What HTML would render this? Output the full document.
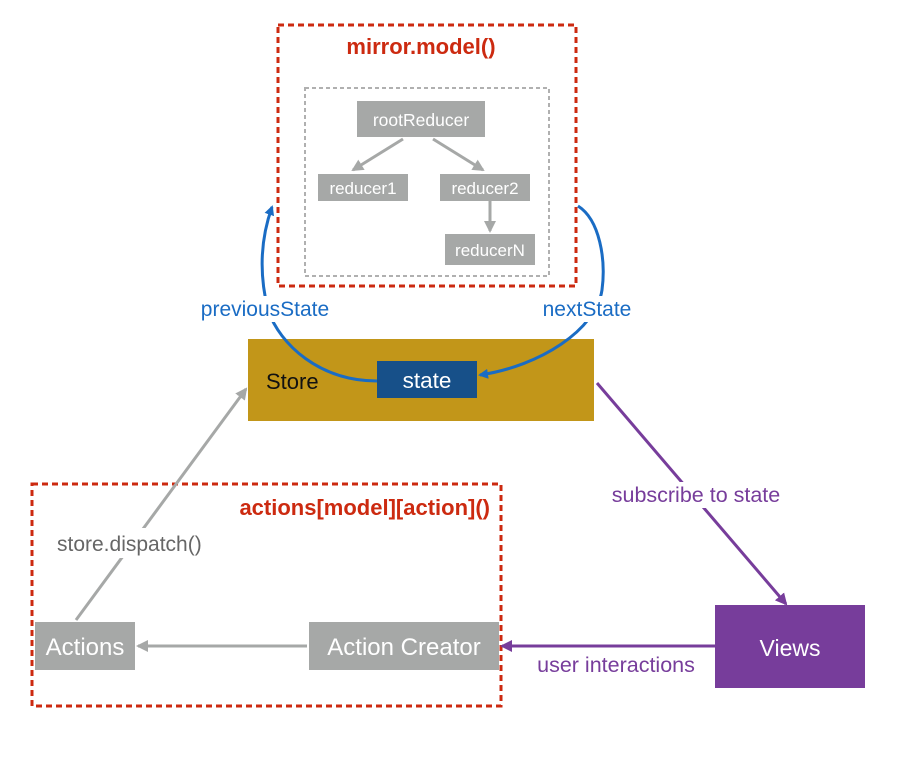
<!DOCTYPE html>
<html><head><style>body{margin:0;background:#fff}svg{display:block}text{font-family:"Liberation Sans",sans-serif}</style></head><body>
<svg width="898" height="763" viewBox="0 0 898 763" xmlns="http://www.w3.org/2000/svg">
<defs>
<marker id="ab" markerWidth="10" markerHeight="10" refX="8" refY="5" orient="auto" markerUnits="userSpaceOnUse"><path d="M0,0 L10,5 L0,10 z" fill="#1a6cc4"/></marker>
<marker id="ag" markerWidth="12" markerHeight="12" refX="10" refY="6" orient="auto" markerUnits="userSpaceOnUse"><path d="M0,0 L12,6 L0,12 z" fill="#a6a8a7"/></marker>
<marker id="ap" markerWidth="12" markerHeight="12" refX="10" refY="6" orient="auto" markerUnits="userSpaceOnUse"><path d="M0,0 L12,6 L0,12 z" fill="#773d9b"/></marker>
</defs>
<rect x="278" y="25" width="298" height="261" fill="none" stroke="#cc2a10" stroke-width="3" stroke-dasharray="6,4"/>
<text x="421" y="54" font-size="22" font-weight="bold" fill="#cc2a10" text-anchor="middle">mirror.model()</text>
<rect x="305" y="88" width="244" height="188" fill="none" stroke="#b0b0b0" stroke-width="2" stroke-dasharray="4,3"/>
<rect x="357" y="101" width="128" height="36" fill="#a6a8a7"/>
<text x="421" y="126" font-size="17.5" fill="#fff" text-anchor="middle">rootReducer</text>
<rect x="318" y="174" width="90" height="27" fill="#a6a8a7"/>
<text x="363" y="194" font-size="17" fill="#fff" text-anchor="middle">reducer1</text>
<rect x="440" y="174" width="90" height="27" fill="#a6a8a7"/>
<text x="485" y="194" font-size="17" fill="#fff" text-anchor="middle">reducer2</text>
<rect x="445" y="234" width="90" height="31" fill="#a6a8a7"/>
<text x="490" y="256" font-size="17" fill="#fff" text-anchor="middle">reducerN</text>
<line x1="403" y1="139" x2="353" y2="170" stroke="#a6a8a7" stroke-width="3" marker-end="url(#ag)"/>
<line x1="433" y1="139" x2="483" y2="170" stroke="#a6a8a7" stroke-width="3" marker-end="url(#ag)"/>
<line x1="490" y1="201" x2="490" y2="231" stroke="#a6a8a7" stroke-width="3" marker-end="url(#ag)"/>

<rect x="248" y="339" width="346" height="82" fill="#c29619"/>
<text x="266" y="389" font-size="22" fill="#111">Store</text>
<path d="M377,381 C320,381 280,345 268,310 C258,270 262,235 272,207" fill="none" stroke="#1a6cc4" stroke-width="3" marker-end="url(#ab)"/>
<path d="M578,206 C600,220 606,260 602,290 C596,330 540,366 480,375" fill="none" stroke="#1a6cc4" stroke-width="3" marker-end="url(#ab)"/>
<rect x="195" y="296" width="140" height="26" fill="#fff"/>
<text x="265" y="316" font-size="21" fill="#1a6cc4" text-anchor="middle">previousState</text>
<rect x="538" y="296" width="98" height="26" fill="#fff"/>
<text x="587" y="316" font-size="21" fill="#1a6cc4" text-anchor="middle">nextState</text>
<rect x="377" y="361" width="100" height="37" fill="#175089"/>
<text x="427" y="388" font-size="22.5" fill="#fff" text-anchor="middle">state</text>

<rect x="32" y="484" width="469" height="222" fill="none" stroke="#cc2a10" stroke-width="3" stroke-dasharray="6,4"/>
<text x="490" y="515" font-size="22" font-weight="bold" fill="#cc2a10" text-anchor="end">actions[model][action]()</text>
<line x1="76" y1="620" x2="246" y2="389" stroke="#a6a8a7" stroke-width="3" marker-end="url(#ag)"/>
<rect x="55" y="528" width="158" height="30" fill="#fff"/>
<text x="57" y="551" font-size="21" fill="#666">store.dispatch()</text>
<rect x="35" y="622" width="100" height="48" fill="#a6a8a7"/>
<text x="85" y="655" font-size="24" fill="#fff" text-anchor="middle">Actions</text>
<rect x="309" y="622" width="190" height="48" fill="#a6a8a7"/>
<text x="404" y="655" font-size="24" fill="#fff" text-anchor="middle">Action Creator</text>
<line x1="307" y1="646" x2="138" y2="646" stroke="#a6a8a7" stroke-width="3" marker-end="url(#ag)"/>

<line x1="597" y1="383" x2="786" y2="604" stroke="#773d9b" stroke-width="3" marker-end="url(#ap)"/>
<rect x="604" y="482" width="184" height="26" fill="#fff"/>
<text x="696" y="502" font-size="21.5" fill="#773d9b" text-anchor="middle">subscribe to state</text>
<rect x="715" y="605" width="150" height="83" fill="#773d9b"/>
<text x="790" y="656" font-size="23" fill="#fff" text-anchor="middle">Views</text>
<line x1="715" y1="646" x2="502" y2="646" stroke="#773d9b" stroke-width="3" marker-end="url(#ap)"/>
<text x="616" y="672" font-size="21.5" fill="#773d9b" text-anchor="middle">user interactions</text>
</svg>
</body></html>
